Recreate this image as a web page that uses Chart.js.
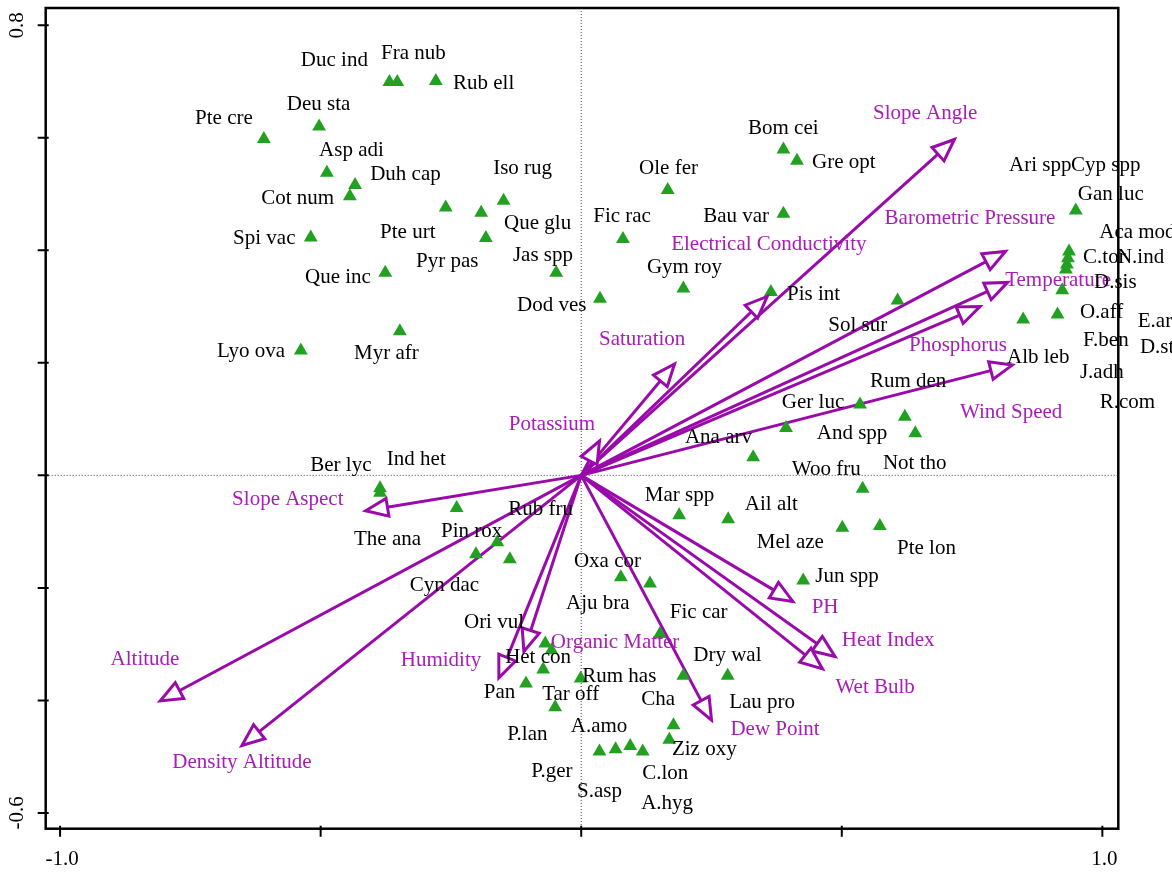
<!DOCTYPE html>
<html>
<head>
<meta charset="utf-8">
<script src="https://cdn.jsdelivr.net/npm/chart.js@4.4.1/dist/chart.umd.min.js"></script>
<style>
  html, body { margin: 0; padding: 0; background: #fff; }
  #cca { display: block; }
</style>
</head>
<body>
<canvas id="cca" width="1172" height="872"></canvas>
<script>
// species scores (green triangles)
let sppX = [-0.609, -0.503, -0.488, -0.434, -0.444, -0.519, -0.376, -0.368, -0.353, -0.279,
    -0.260, -0.192, -0.149, -0.183, -0.048, 0.166, 0.080, 0.196, 0.036, 0.364,
    0.388, 0.388, 0.414, 0.949, 0.936, 0.934, 0.932, 0.930, 0.923, 0.914,
    0.848, 0.607, 0.535, 0.621, 0.641, 0.393, 0.540, 0.501, 0.573, 0.426,
    -0.348, 0.330, -0.386, -0.386, -0.239, -0.202, -0.161, -0.137, 0.188, 0.282,
    0.076, 0.132, -0.538, 0.151, -0.069, -0.057, -0.073, -0.106, -0.050, -0.001,
    0.196, 0.281, 0.177, 0.169, 0.035, 0.066, 0.094, 0.118];
let sppY = [0.598, 0.620, 0.538, 0.516, 0.496, 0.423, 0.360, 0.699, 0.699, 0.701,
    0.476, 0.467, 0.488, 0.422, 0.360, 0.507, 0.420, 0.332, 0.314, 0.326,
    0.465, 0.579, 0.559, 0.471, 0.398, 0.386, 0.375, 0.366, 0.329, 0.286,
    0.277, 0.311, 0.126, 0.104, 0.075, 0.084, -0.024, -0.093, -0.090, -0.187,
    0.256, 0.032, -0.023, -0.031, -0.058, -0.140, -0.119, -0.149, -0.071, -0.078,
    -0.181, -0.192, 0.222, -0.282, -0.299, -0.311, -0.345, -0.370, -0.412, -0.361,
    -0.356, -0.356, -0.444, -0.470, -0.491, -0.487, -0.481, -0.491];

// species labels (left edge of text, middle of caps)
let sppNames = ["Duc ind", "Fra nub", "Rub ell", "Deu sta", "Pte cre", "Asp adi", "Duh cap", "Cot num",
    "Spi vac", "Que inc", "Pte urt", "Pyr pas", "Iso rug", "Que glu", "Jas spp", "Ole fer",
    "Fic rac", "Bau var", "Gym roy", "Bom cei", "Gre opt", "Ari spp", "Cyp spp", "Gan luc",
    "Aca mod", "C.tor", "N.ind", "D.sis", "O.aff", "E.arv", "F.ben", "D.str",
    "J.adh", "R.com", "Alb leb", "Dod ves", "Myr afr", "Lyo ova", "Pis int", "Sol sur",
    "Rum den", "Ger luc", "And spp", "Not tho", "Woo fru", "Ail alt", "Mel aze", "Pte lon",
    "Jun spp", "Mar spp", "Ana arv", "Ind het", "Ber lyc", "The ana", "Rub fru", "Pin rox",
    "Cyn dac", "Oxa cor", "Aju bra", "Fic car", "Ori vul", "Het con", "Dry wal", "Rum has",
    "Pan", "Tar off", "Cha", "Lau pro", "A.amo", "P.lan", "Ziz oxy", "P.ger",
    "C.lon", "S.asp", "A.hyg"];
let sppLabelX = [-0.538, -0.384, -0.246, -0.565, -0.741, -0.503, -0.405, -0.614,
    -0.668, -0.530, -0.386, -0.317, -0.169, -0.148, -0.131, 0.111,
    0.023, 0.234, 0.126, 0.320, 0.443, 0.821, 0.940, 0.953,
    0.994, 0.963, 1.028, 0.984, 0.957, 1.068, 0.963, 1.072,
    0.957, 0.995, 0.817, -0.123, -0.436, -0.699, 0.395, 0.474,
    0.554, 0.385, 0.452, 0.579, 0.404, 0.314, 0.337, 0.606,
    0.449, 0.122, 0.199, -0.373, -0.520, -0.436, -0.140, -0.269,
    -0.329, -0.014, -0.029, 0.170, -0.225, -0.146, 0.215, 0.002,
    -0.187, -0.075, 0.115, 0.284, -0.020, -0.142, 0.174, -0.096,
    0.117, -0.008, 0.115];
let sppLabelY = [0.737, 0.749, 0.696, 0.659, 0.634, 0.577, 0.535, 0.492,
    0.421, 0.352, 0.432, 0.380, 0.545, 0.448, 0.391, 0.545,
    0.460, 0.460, 0.370, 0.616, 0.556, 0.551, 0.551, 0.499,
    0.432, 0.387, 0.387, 0.343, 0.290, 0.274, 0.240, 0.228,
    0.182, 0.129, 0.210, 0.302, 0.217, 0.221, 0.322, 0.267,
    0.166, 0.129, 0.075, 0.022, 0.010, -0.051, -0.120, -0.130,
    -0.180, -0.035, 0.068, 0.029, 0.017, -0.114, -0.061, -0.100,
    -0.196, -0.153, -0.228, -0.244, -0.262, -0.324, -0.320, -0.357,
    -0.386, -0.389, -0.398, -0.403, -0.446, -0.460, -0.488, -0.527,
    -0.529, -0.561, -0.584];

// environmental variables (arrow tips + label centres)
let envNames = ["Slope Angle", "Barometric Pressure", "Electrical Conductivity", "Temperature",
    "Phosphorus", "Wind Speed", "Saturation", "Potassium", "Slope Aspect", "Altitude",
    "Density Altitude", "Humidity", "Organic Matter", "Dew Point", "PH", "Heat Index", "Wet Bulb"];
let envX = [0.716, 0.814, 0.357, 0.818, 0.765, 0.827, 0.179, 0.035, -0.4135, -0.808,
    -0.651, -0.158, -0.110, 0.250, 0.406, 0.487, 0.463];
let envY = [0.597, 0.398, 0.318, 0.343, 0.300, 0.196, 0.198, 0.061, -0.063, -0.401,
    -0.480, -0.360, -0.313, -0.435, -0.224, -0.322, -0.344];
let envLabelX = [0.660, 0.746, 0.360, 0.915, 0.723, 0.825, 0.117, -0.056, -0.563, -0.837,
    -0.651, -0.269, 0.065, 0.372, 0.468, 0.589, 0.564];
let envLabelY = [0.643, 0.457, 0.410, 0.347, 0.231, 0.111, 0.242, 0.090, -0.043, -0.327,
    -0.510, -0.329, -0.297, -0.451, -0.235, -0.293, -0.377];

// axes
let xTicks = [-1.0, -0.5, 0, 0.5, 1.0];
let yTicks = [-0.6, -0.4, -0.2, 0, 0.2, 0.4, 0.6, 0.8];
let xTickLabels = [[-1.0, "-1.0"], [1.0, "1.0"]];
let yTickLabels = [[0.8, "0.8"], [-0.6, "-0.6"]];

const serif = '"Liberation Serif", "Times New Roman", serif';
const purpleLine = '#9a0aaa';
const purpleText = '#a81cb8';

let datasets = [];
datasets.push({
    label: 'species',
    data: sppX.map(function(x, i) { return { x: x, y: sppY[i] }; }),
    pointStyle: 'triangle',
    pointRadius: 8,
    backgroundColor: '#22a022',
    borderColor: '#22a022',
    borderWidth: 0,
    order: 0
});
envNames.forEach(function(name, i) {
    datasets.push({
        label: name,
        data: [{ x: 0, y: 0 }, { x: envX[i], y: envY[i] }],
        showLine: true,
        borderColor: purpleLine,
        borderWidth: 3,
        pointRadius: 0,
        order: 1
    });
});

const biplotDraw = {
    id: 'biplotDraw',
    beforeDatasetsDraw(chart) {
        let ctx = chart.ctx, xs = chart.scales.x, ys = chart.scales.y, a = chart.chartArea;
        let x0 = xs.getPixelForValue(0), y0 = ys.getPixelForValue(0);
        ctx.save();
        ctx.strokeStyle = '#444';
        ctx.lineWidth = 1;
        ctx.setLineDash([1, 2]);
        ctx.beginPath();
        ctx.moveTo(x0, a.top); ctx.lineTo(x0, a.bottom);
        ctx.moveTo(a.left, y0); ctx.lineTo(a.right, y0);
        ctx.stroke();
        ctx.restore();
    },
    afterDatasetsDraw(chart) {
        let ctx = chart.ctx, xs = chart.scales.x, ys = chart.scales.y, a = chart.chartArea;
        let x0 = xs.getPixelForValue(0), y0 = ys.getPixelForValue(0);
        ctx.save();

        // open arrow heads
        envNames.forEach(function(name, i) {
            let tx = xs.getPixelForValue(envX[i]), ty = ys.getPixelForValue(envY[i]);
            let ang = Math.atan2(ty - y0, tx - x0);
            let len = 22, half = 9;
            let bx = tx - len * Math.cos(ang), by = ty - len * Math.sin(ang);
            ctx.beginPath();
            ctx.moveTo(tx, ty);
            ctx.lineTo(bx - half * Math.sin(ang), by + half * Math.cos(ang));
            ctx.lineTo(bx + half * Math.sin(ang), by - half * Math.cos(ang));
            ctx.closePath();
            ctx.fillStyle = '#fff';
            ctx.fill();
            ctx.strokeStyle = purpleLine;
            ctx.lineWidth = 3;
            ctx.lineJoin = 'miter';
            ctx.stroke();
        });

        // variable names
        ctx.font = '21px ' + serif;
        ctx.textAlign = 'center';
        ctx.textBaseline = 'middle';
        ctx.fillStyle = purpleText;
        envNames.forEach(function(name, i) {
            ctx.fillText(name, xs.getPixelForValue(envLabelX[i]), ys.getPixelForValue(envLabelY[i]));
        });

        // species names
        ctx.textAlign = 'left';
        ctx.fillStyle = '#000';
        sppNames.forEach(function(name, i) {
            ctx.fillText(name, xs.getPixelForValue(sppLabelX[i]), ys.getPixelForValue(sppLabelY[i]));
        });

        // frame
        ctx.strokeStyle = '#000';
        ctx.lineWidth = 2.5;
        ctx.strokeRect(a.left, a.top, a.right - a.left, a.bottom - a.top);

        // tick marks
        ctx.lineWidth = 2;
        ctx.beginPath();
        yTicks.forEach(function(v) {
            let py = ys.getPixelForValue(v);
            ctx.moveTo(a.left - 8, py); ctx.lineTo(a.left + 3, py);
        });
        xTicks.forEach(function(v) {
            let px = xs.getPixelForValue(v);
            ctx.moveTo(px, a.bottom - 3); ctx.lineTo(px, a.bottom + 8);
        });
        ctx.stroke();

        // tick labels
        ctx.textAlign = 'center';
        ctx.textBaseline = 'middle';
        xTickLabels.forEach(function(t) {
            ctx.fillText(t[1], xs.getPixelForValue(t[0]) + 2, a.bottom + 31);
        });
        yTickLabels.forEach(function(t) {
            ctx.save();
            ctx.translate(a.left - 28, ys.getPixelForValue(t[0]));
            ctx.rotate(-Math.PI / 2);
            ctx.fillText(t[1], 0, 0);
            ctx.restore();
        });
        ctx.restore();
    }
};

let cca = new Chart(document.getElementById('cca').getContext('2d'), {
    type: 'scatter',
    data: { datasets: datasets },
    options: {
        responsive: false,
        animation: false,
        layout: { padding: { left: 45.7, right: 53.7, top: 6, bottom: 43.3 } },
        plugins: { legend: { display: false }, tooltip: { enabled: false } },
        scales: {
            x: { type: 'linear', display: false, min: -1.0276, max: 1.0306 },
            y: { type: 'linear', display: false, min: -0.628, max: 0.8307 }
        }
    },
    plugins: [biplotDraw]
});
</script>
</body>
</html>
